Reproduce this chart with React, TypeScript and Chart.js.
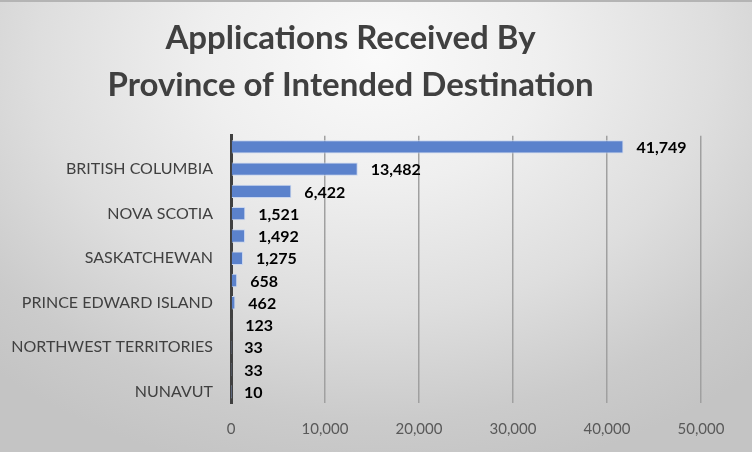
import React, { useEffect, useRef } from "react";
import { Chart, registerables } from "chart.js";

Chart.register(...registerables);

const provinces = [
  "ONTARIO",
  "BRITISH COLUMBIA",
  "ALBERTA",
  "NOVA SCOTIA",
  "MANITOBA",
  "SASKATCHEWAN",
  "NEW BRUNSWICK",
  "PRINCE EDWARD ISLAND",
  "NEWFOUNDLAND AND LABRADOR",
  "NORTHWEST TERRITORIES",
  "YUKON",
  "NUNAVUT",
];
const applications = [41749, 13482, 6422, 1521, 1492, 1275, 658, 462, 123, 33, 33, 10];
const titleLines = ["Applications Received By", "Province of Intended Destination"];
const xMax = 50000;
const xStep = 10000;

const fmt = (v: number) => v.toLocaleString("en-US");

const valueLabels = {
  id: "valueLabels",
  afterDatasetsDraw(chart: any) {
    const ctx = chart.ctx;
    const meta = chart.getDatasetMeta(0);
    ctx.save();
    ctx.font = "bold 16px Lato";
    ctx.fillStyle = "#000000";
    ctx.textAlign = "left";
    ctx.textBaseline = "middle";
    meta.data.forEach((bar: any, i: number) => {
      ctx.fillText(fmt(applications[i]), bar.x + 13, bar.y + 1);
    });
    ctx.restore();
  },
};

export default function App() {
  const ref = useRef<HTMLCanvasElement | null>(null);
  useEffect(() => {
    if (!ref.current) return;
    const chart = new Chart(ref.current, {
      type: "bar",
      data: {
        labels: provinces,
        datasets: [
          {
            data: applications,
            backgroundColor: "#5b82cc",
            borderColor: "#c9d6ef",
            borderWidth: 1,
            barPercentage: 0.6,
            categoryPercentage: 1,
          },
        ],
      },
      options: {
        indexAxis: "y",
        animation: false,
        responsive: false,
        maintainAspectRatio: false,
        layout: { padding: { left: 0, right: 51, top: 0, bottom: 0 } },
        plugins: {
          legend: { display: false },
          tooltip: { enabled: false },
          title: {
            display: true,
            text: titleLines,
            color: "#404040",
            font: { family: "Lato", size: 33, weight: "bold", lineHeight: 1.42 },
            padding: { top: 13, bottom: 27 },
          },
        },
        scales: {
          x: {
            min: 0,
            max: xMax,
            ticks: {
              stepSize: xStep,
              color: "#595959",
              font: { family: "Lato", size: 15 },
              padding: 17,
              callback: (v: any) => fmt(Number(v)),
            },
            grid: {
              color: (c: any) => (c.tick && c.tick.value === 0 ? "rgba(0,0,0,0)" : "#a0a0a0"),
              lineWidth: 1.5,
              drawTicks: false,
            },
            border: { display: false },
            afterFit: (s: any) => {
              s.height = 49;
            },
          },
          y: {
            ticks: {
              color: "#404040",
              font: { family: "Lato", size: 16 },
              padding: 18,
              autoSkip: false,
              callback: function (this: any, v: any, i: number) {
                return i % 2 === 1 ? provinces[i] : "";
              },
            },
            grid: { display: false, drawTicks: false },
            border: { display: true, color: "#404040", width: 3 },
            afterFit: (s: any) => {
              s.width = 231;
            },
          },
        },
      },
      plugins: [valueLabels],
    });
    return () => chart.destroy();
  }, []);
  return (
    <div
      style={{
        position: "fixed",
        left: 0,
        top: 0,
        width: 752,
        height: 452,
        boxSizing: "border-box",
        borderTop: "2px solid #b4b4b4",
        background:
          "radial-gradient(ellipse 75% 95% at 50% 12%, #fafafa 0%, #efefef 30%, #dedede 60%, #cbcbcb 85%, #c4c4c4 100%)",
      }}
    >
      <canvas ref={ref} width={752} height={450} style={{ display: "block" }} />
    </div>
  );
}
